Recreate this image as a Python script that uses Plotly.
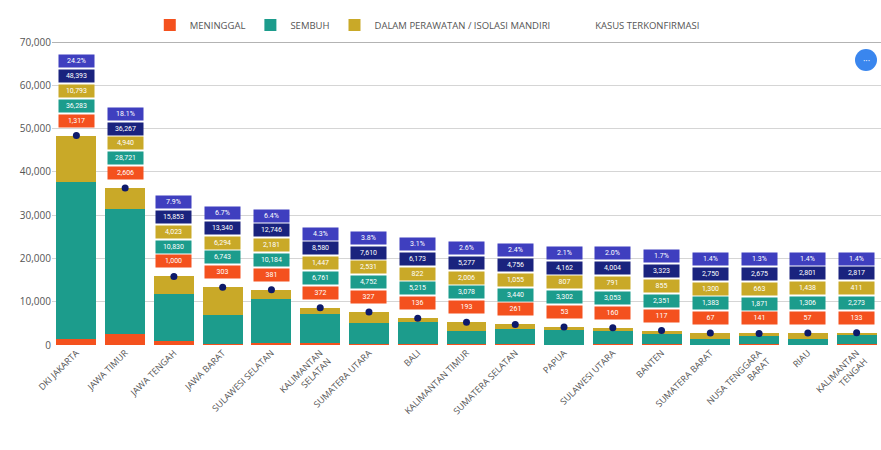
import plotly.graph_objects as go

provinces = ["DKI JAKARTA", "JAWA TIMUR", "JAWA TENGAH", "JAWA BARAT", "SULAWESI SELATAN",
             "KALIMANTAN<br>SELATAN", "SUMATERA UTARA", "BALI", "KALIMANTAN TIMUR",
             "SUMATERA SELATAN", "PAPUA", "SULAWESI UTARA", "BANTEN", "SUMATERA BARAT",
             "NUSA TENGGARA<br>BARAT", "RIAU", "KALIMANTAN<br>TENGAH"]
deaths = [1317, 2606, 1000, 303, 381, 372, 327, 136, 193, 261, 53, 160, 117, 67, 141, 57, 133]
recovered = [36283, 28721, 10830, 6743, 10184, 6761, 4752, 5215, 3078, 3440, 3302, 3053, 2351, 1383, 1871, 1306, 2273]
active = [10793, 4940, 4023, 6294, 2181, 1447, 2531, 822, 2006, 1055, 807, 791, 855, 1300, 663, 1438, 411]
totals = [48393, 36267, 15853, 13340, 12746, 8580, 7610, 6173, 5277, 4756, 4162, 4004, 3323, 2750, 2675, 2801, 2817]
shares = ["24.2%", "18.1%", "7.9%", "6.7%", "6.4%", "4.3%", "3.8%", "3.1%", "2.6%", "2.4%",
          "2.1%", "2.0%", "1.7%", "1.4%", "1.3%", "1.4%", "1.4%"]
y_ticks = [0, 10000, 20000, 30000, 40000, 50000, 60000, 70000]

RED = "#F4511E"
TEAL = "#1C9C8C"
YELLOW = "#C9A928"
NAVY = "#1A237E"
PURPLE = "#3F3FBF"
DOT = "#0D1A6B"

fig = go.Figure()
fig.add_trace(go.Bar(x=provinces, y=deaths, name="MENINGGAL", marker=dict(color=RED, line=dict(width=0))))
fig.add_trace(go.Bar(x=provinces, y=recovered, name="SEMBUH", marker=dict(color=TEAL, line=dict(width=0))))
fig.add_trace(go.Bar(x=provinces, y=active, name="DALAM PERAWATAN / ISOLASI MANDIRI",
                     marker=dict(color=YELLOW, line=dict(width=0))))
fig.add_trace(go.Scatter(x=provinces, y=totals, mode="markers", name="KASUS TERKONFIRMASI",
                         marker=dict(color=DOT, size=7), showlegend=False))
fig.add_trace(go.Scatter(x=[provinces[0]], y=[None], mode="markers", name="KASUS TERKONFIRMASI",
                         marker=dict(color="rgba(0,0,0,0)", size=1), showlegend=True))

annotations = []
for i, p in enumerate(provinces):
    labels = [(f"{deaths[i]:,}", RED), (f"{recovered[i]:,}", TEAL), (f"{active[i]:,}", YELLOW),
              (f"{totals[i]:,}", NAVY), (shares[i], PURPLE)]
    for k, (txt, col) in enumerate(labels):
        annotations.append(dict(
            x=p, y=totals[i], xref="x", yref="y", text=txt, showarrow=False,
            yanchor="middle", yshift=15 + 14.8 * k, bgcolor=col, width=35, height=12,
            borderpad=0, font=dict(family="Roboto", size=7, color="white")))

annotations.append(dict(x=(866 - 52) / 829, y=(345 - 60) / 303, xref="paper", yref="paper", text="···",
                        showarrow=False, font=dict(size=9, color="white"), xanchor="center", yanchor="middle"))

fig.update_layout(
    width=881, height=450,
    barmode="stack", bargap=0.18,
    plot_bgcolor="white", paper_bgcolor="white",
    margin=dict(l=52, r=0, t=42, b=105, autoexpand=False),
    font=dict(family="Open Sans", size=9, color="#555"),
    legend=dict(orientation="h", xref="container", yref="container", x=0.485, y=1 - 25 / 450,
                xanchor="center", yanchor="middle", traceorder="normal",
                font=dict(family="Open Sans", size=9.5, color="#555")),
    xaxis=dict(tickangle=-45, tickfont=dict(size=9, color="#555"), showgrid=False,
               showline=False, ticks="", automargin=False, range=[-0.5, 16.5],
               categoryorder="array", categoryarray=provinces),
    yaxis=dict(range=[0, 70000], tickvals=y_ticks, tickformat=",", showgrid=True,
               gridcolor="#d5d5d5", zeroline=False, showline=False, automargin=False,
               tickfont=dict(size=10, color="#555")),
    annotations=annotations,
    shapes=[
        dict(type="line", xref="paper", yref="y", x0=0, x1=1, y0=70000, y1=70000,
             line=dict(color="#9a9a9a", width=1.5), layer="below"),
        dict(type="circle", xref="paper", yref="paper", x0=(855 - 52) / 829, x1=(877 - 52) / 829,
             y0=(345 - 71) / 303, y1=(345 - 49) / 303, fillcolor="#3A86EE", line=dict(width=0)),
    ],
)
fig.write_html("out.html")
